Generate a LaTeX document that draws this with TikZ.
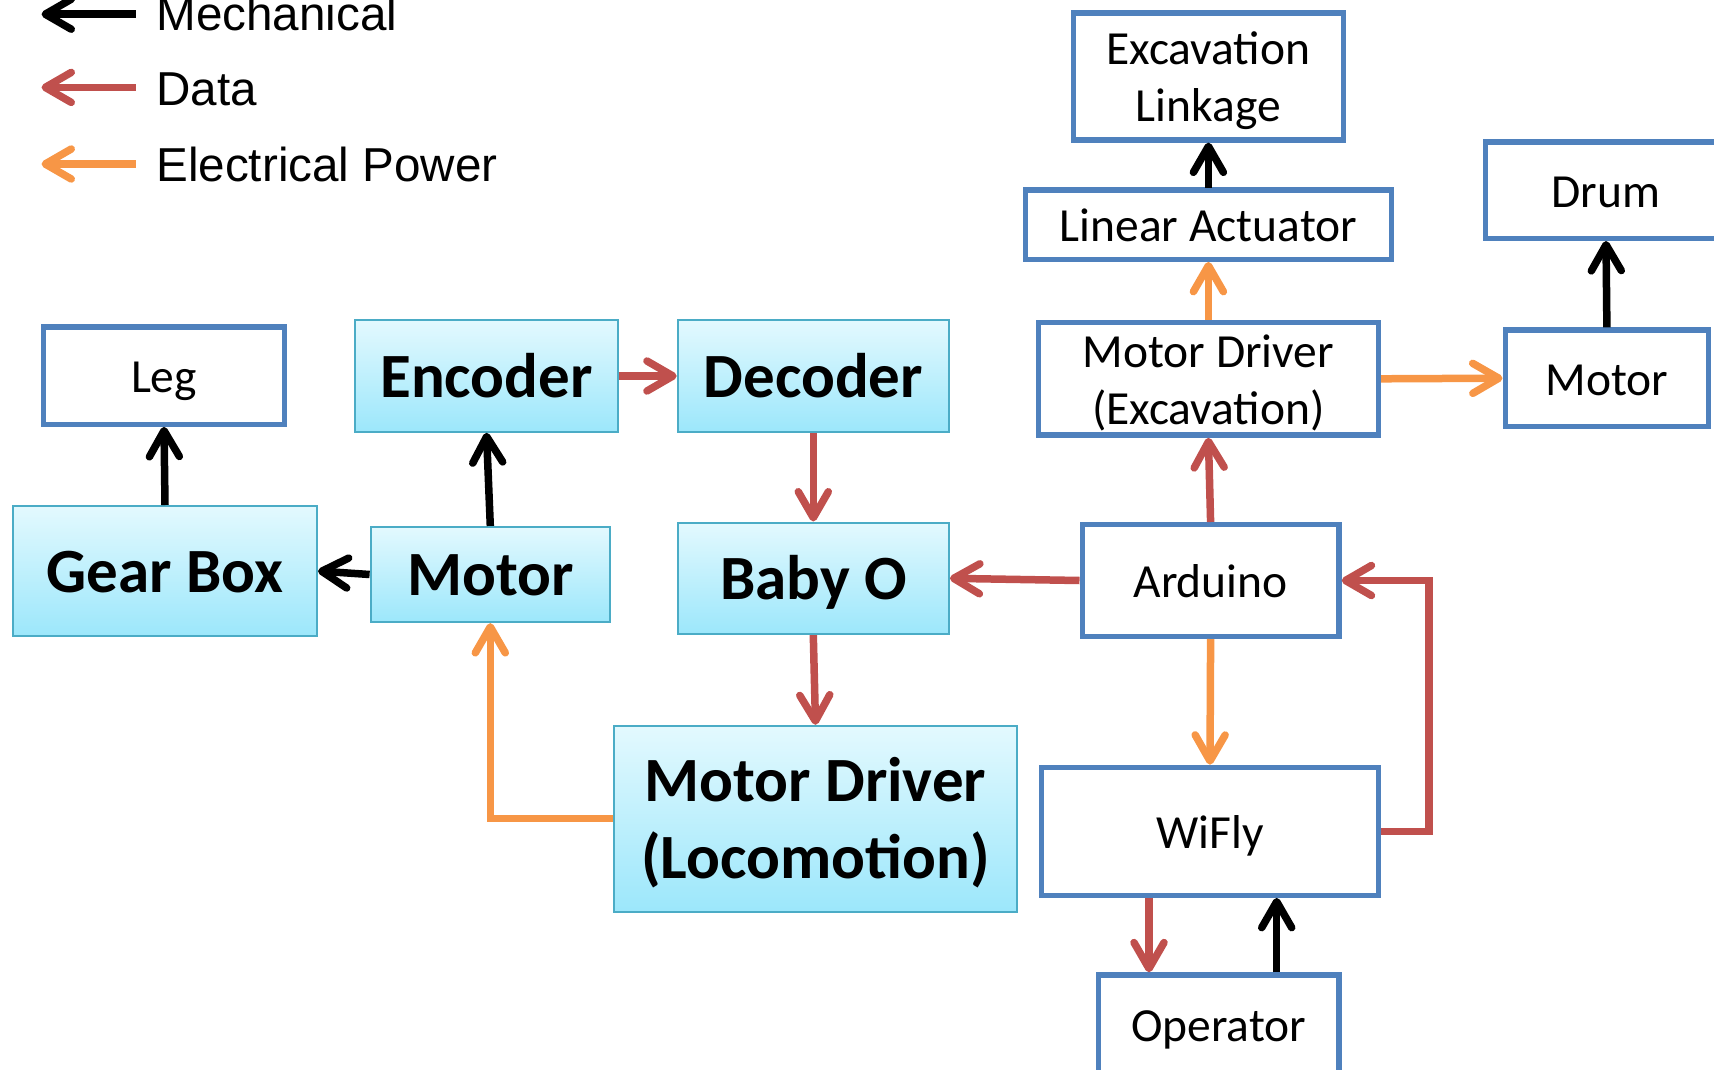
\documentclass[tikz,border=0pt]{standalone}
\usepackage{fontspec}
\setmainfont{Carlito}
\newfontfamily\arialf{Liberation Sans}
\usetikzlibrary{arrows.meta,calc}
\definecolor{boxblue}{HTML}{4F81BD}
\definecolor{datared}{HTML}{C0504D}
\definecolor{powerorange}{HTML}{F79646}
\definecolor{cyanedge}{HTML}{4BACC6}
\definecolor{cyantop}{HTML}{E3F9FE}
\definecolor{cyanbot}{HTML}{9CE7FB}
\begin{document}
\begin{tikzpicture}[x=0.5pt,y=-0.5pt,
  bluebox/.style={draw=boxblue, line width=2.7pt, fill=white, align=center, font=\fontsize{23.75}{28.4}\selectfont, inner sep=0pt, text height=18pt, text depth=1.2pt},
  cyanbox/.style={draw=cyanedge, line width=1pt, top color=cyantop, bottom color=cyanbot, align=center, font=\fontsize{31.5}{38.3}\selectfont\bfseries, inner sep=0pt, text height=23pt, text depth=1.6pt},
  rtwo/.style={text height=46pt, text depth=0.8pt},
  btwo/.style={text height=61pt, text depth=1.3pt},
  tipv/.style={-{Straight Barb[length=13pt,width=15pt,round]}},
  mech/.style={draw=black, line width=3.75pt, tipv},
  data/.style={draw=datared, line width=3.75pt, tipv},
  power/.style={draw=powerorange, line width=3.75pt, tipv},
  legtext/.style={font=\arialf\fontsize{23.8}{28}\selectfont, anchor=base west, inner sep=0pt}
]
\useasboundingbox (0,0) rectangle (1714,1070);

% legend
\coordinate (lm1) at (135.5,14.2); \coordinate (lm2) at (41.5,14.2);
\coordinate (ld1) at (135.5,87.4); \coordinate (ld2) at (41.5,87.4);
\coordinate (lp1) at (135.5,164); \coordinate (lp2) at (41.5,164);
\draw[mech] (lm1) -- (lm2);
\draw[data] (ld1) -- (ld2);
\draw[power] (lp1) -- (lp2);
\node[legtext] (lmech) at (156,30.6) {Mechanical};
\node[legtext] (ldata) at (156,106) {Data};
\node[legtext] (lpow) at (156,181.5) {Electrical Power};

% nodes
\node[bluebox, minimum width=120.3pt, minimum height=48.7pt] (leg) at (164,375.5) {Leg};
\node[cyanbox, minimum width=152pt, minimum height=65pt] (gear) at (165,571) {Gear Box};
\node[cyanbox, minimum width=131.2pt, minimum height=55.8pt] (enc) at (486.5,376) {Encoder};
\node[cyanbox, minimum width=119.7pt, minimum height=47.6pt] (motl) at (490.3,574.5) {Motor};
\node[cyanbox, minimum width=135.6pt, minimum height=55.8pt] (dec) at (813.3,376) {Decoder};
\node[cyanbox, minimum width=135.6pt, minimum height=55.8pt] (baby) at (813.3,578.3) {Baby O};
\node[cyanbox, btwo, minimum width=201.2pt, minimum height=92.9pt] (mdl) at (815.5,818.7) {Motor Driver\\(Locomotion)};
\node[bluebox, rtwo, minimum width=135pt, minimum height=63.4pt] (link) at (1208.4,76.5) {Excavation\\Linkage};
\node[bluebox, minimum width=183.1pt, minimum height=34.5pt] (lin) at (1208.4,224.7) {Linear Actuator};
\node[bluebox, rtwo, minimum width=170pt, minimum height=56.3pt] (mde) at (1208.4,378.8) {Motor Driver\\(Excavation)};
\node[bluebox, minimum width=120.5pt, minimum height=48.1pt] (drum) at (1606,190.2) {Drum};
\node[bluebox, minimum width=101.7pt, minimum height=48.1pt] (mote) at (1606.9,378.2) {Motor};
\node[bluebox, minimum width=128.4pt, minimum height=55.8pt] (ard) at (1210.6,580.5) {Arduino};
\node[bluebox, minimum width=168.4pt, minimum height=63.9pt] (wifly) at (1210,831.3) {WiFly};
\node[bluebox, minimum width=120.2pt, minimum height=50pt] (op) at (1218.8,1025) {Operator};

% connectors
\draw[mech] (gear.north) -- (leg.south);
\draw[mech] (motl.north) -- (enc.south);
\draw[mech] (motl.west) -- (gear.east);
\draw[data] (enc.east) -- (dec.west);
\draw[data] (dec.south) -- (baby.north);
\draw[data] (baby.south) -- (mdl.north);
\draw[data] (ard.west) -- (baby.east);
\draw[data] (ard.north) -- (mde.south);
\draw[power] (mde.north) -- (lin.south);
\draw[mech] (lin.north) -- (link.south);
\draw[power] (mde.east) -- (mote.west);
\draw[mech] (mote.north) -- (drum.south);
\draw[power] (ard.south) -- (wifly.north);
\draw[data] (wifly.east) -- ++(48.1,0) |- (ard.east);
\coordinate (opa) at ($(op.north)+(-69.8,0)$);
\coordinate (opb) at ($(op.north)+(57.9,0)$);
\draw[data] (opa |- wifly.south) -- (opa);
\draw[mech] (opb) -- (opb |- wifly.south);
\draw[power] (mdl.west) -| (motl.south);
\end{tikzpicture}
\end{document}
